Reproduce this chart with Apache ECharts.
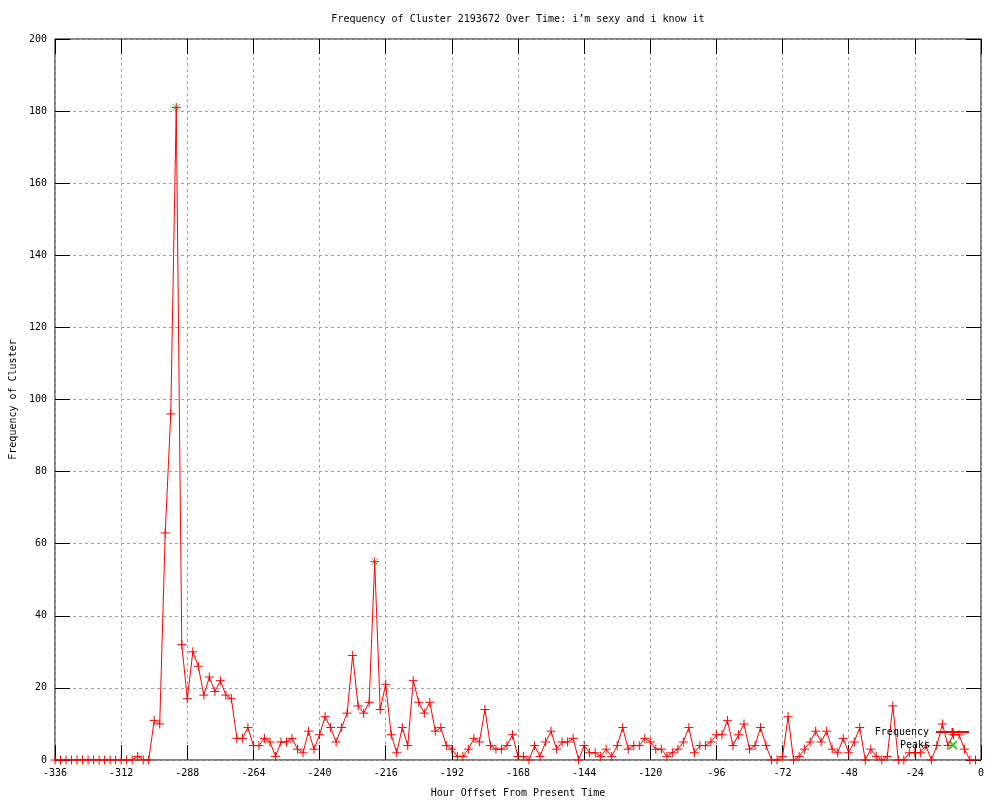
<!DOCTYPE html>
<html>
<head>
<meta charset="utf-8">
<script src="https://cdn.jsdelivr.net/npm/echarts@6/dist/echarts.min.js"></script>
<style>
html,body{margin:0;padding:0;background:#fff;}
#chart{width:1000px;height:800px;}
</style>
</head>
<body>
<div id="chart"></div>
<script>
var titleText = 'Frequency of Cluster 2193672 Over Time: i\u2019m sexy and i know it';
var xAxisName = 'Hour Offset From Present Time';
var yAxisName = 'Frequency of Cluster';

var hours = [-336,-334,-332,-330,-328,-326,-324,-322,-320,-318,-316,-314,-312,-310,-308,-306,-304,-302,-300,-298,-296,-294,-292,-290,-288,-286,-284,-282,-280,-278,-276,-274,-272,-270,-268,-266,-264,-262,-260,-258,-256,-254,-252,-250,-248,-246,-244,-242,-240,-238,-236,-234,-232,-230,-228,-226,-224,-222,-220,-218,-216,-214,-212,-210,-208,-206,-204,-202,-200,-198,-196,-194,-192,-190,-188,-186,-184,-182,-180,-178,-176,-174,-172,-170,-168,-166,-164,-162,-160,-158,-156,-154,-152,-150,-148,-146,-144,-142,-140,-138,-136,-134,-132,-130,-128,-126,-124,-122,-120,-118,-116,-114,-112,-110,-108,-106,-104,-102,-100,-98,-96,-94,-92,-90,-88,-86,-84,-82,-80,-78,-76,-74,-72,-70,-68,-66,-64,-62,-60,-58,-56,-54,-52,-50,-48,-46,-44,-42,-40,-38,-36,-34,-32,-30,-28,-26,-24,-22,-20,-18,-16,-14,-12,-10,-8,-6,-4,-2];

var frequency = [
0,0,0,0,0,0,0,0,0,0,0,0,0,0,0,
1,0,0,11,10,
63,96,181,32,17,30,26,18,23,19,
22,18,17,6,6,9,4,4,6,5,
1,5,5,6,3,2,8,3,7,12,
9,5,9,13,29,15,13,16,55,14,
21,7,2,9,4,22,16,13,16,8,
9,4,3,1,1,3,6,5,14,4,
3,3,4,7,1,1,0,4,1,5,
8,3,5,5,6,0,4,2,2,1,
3,1,4,9,3,4,4,6,5,3,
3,1,2,3,5,9,2,4,4,5,
7,7,11,4,7,10,3,4,9,4,
0,0,1,12,0,1,3,5,8,5,
8,3,2,6,2,5,9,0,3,1,
0,1,15,0,0,2,2,2,4,0,
4,10,4,7,7,3,0,0];

var peakHours = [-292, -220];
var peakValues = [181, 55];

var xTicks = [-336,-312,-288,-264,-240,-216,-192,-168,-144,-120,-96,-72,-48,-24,0];
var yTicks = [0,20,40,60,80,100,120,140,160,180,200];

var FONT = 'DejaVu Sans Mono';
var plusPath = 'path://M5,0L5,10M0,5L10,5';
var crossPath = 'path://M0,0L10,10M0,10L10,0';

var freqData = hours.map(function(h, i){ return [h, frequency[i]]; });
var peakData = peakHours.map(function(h, i){ return [h, peakValues[i]]; });

var chart = echarts.init(document.getElementById('chart'), null, {renderer:'canvas'});
var tickStyle = {show:true, inside:true, length:15, lineStyle:{color:'#000', width:1}};
var gridLine = {show:true, lineStyle:{color:'#a0a0a0', type:[3,3], width:1}};
var noLine = {show:false, onZero:false};

chart.setOption({
  animation:false,
  backgroundColor:'#ffffff',
  title:{
    text:titleText, left:518, top:14, textAlign:'center', padding:0,
    textStyle:{fontFamily:FONT, fontSize:10, fontWeight:'normal', color:'#000'}
  },
  grid:{left:55, right:19, top:39, bottom:40, containLabel:false, outerBoundsMode:'none',
        show:true, borderColor:'#000', borderWidth:1, backgroundColor:'transparent'},
  legend:[{
    data:['Frequency'], orient:'vertical', align:'right', right:30, top:727, padding:0,
    itemWidth:33, itemHeight:10,
    textStyle:{fontFamily:FONT, fontSize:10, color:'#000', padding:[0,2,0,0]}
  },{
    data:['Peaks'], orient:'vertical', align:'right', right:42, top:740, padding:0,
    itemWidth:10, itemHeight:8,
    textStyle:{fontFamily:FONT, fontSize:10, color:'#000', padding:[0,13,0,0]}
  }],
  xAxis:[{
    type:'value', min:xTicks[0], max:xTicks[xTicks.length-1], interval:24,
    name:xAxisName, nameLocation:'middle', nameGap:28,
    nameTextStyle:{fontFamily:FONT, fontSize:10, color:'#000'},
    axisLine:noLine, axisTick:tickStyle, splitLine:gridLine,
    axisLabel:{fontFamily:FONT, fontSize:10, color:'#000', margin:8}
  },{
    type:'value', position:'top', min:xTicks[0], max:xTicks[xTicks.length-1], interval:24,
    axisLine:noLine, axisTick:tickStyle, splitLine:{show:false}, axisLabel:{show:false}
  }],
  yAxis:[{
    type:'value', min:yTicks[0], max:yTicks[yTicks.length-1], interval:20,
    name:yAxisName, nameLocation:'middle', nameGap:37,
    nameTextStyle:{fontFamily:FONT, fontSize:10, color:'#000'},
    axisLine:noLine, axisTick:tickStyle, splitLine:gridLine,
    axisLabel:{fontFamily:FONT, fontSize:10, color:'#000', margin:8}
  },{
    type:'value', position:'right', min:yTicks[0], max:yTicks[yTicks.length-1], interval:20,
    axisLine:noLine, axisTick:tickStyle, splitLine:{show:false}, axisLabel:{show:false}
  }],
  series:[{
    name:'Frequency', type:'line', xAxisIndex:0, yAxisIndex:0,
    data:freqData, showSymbol:true, showAllSymbol:true,
    symbol:plusPath, symbolSize:9,
    lineStyle:{color:'#ff0000', width:1},
    itemStyle:{color:'#ff0000', borderColor:'#ff0000', borderWidth:1},
    emphasis:{disabled:true}, z:3
  },{
    name:'Peaks', type:'scatter', xAxisIndex:0, yAxisIndex:0,
    data:peakData, symbol:crossPath, symbolSize:7,
    itemStyle:{color:'#00c000', borderColor:'#00c000', borderWidth:1},
    emphasis:{disabled:true}, z:4
  }]
});
</script>
</body>
</html>
